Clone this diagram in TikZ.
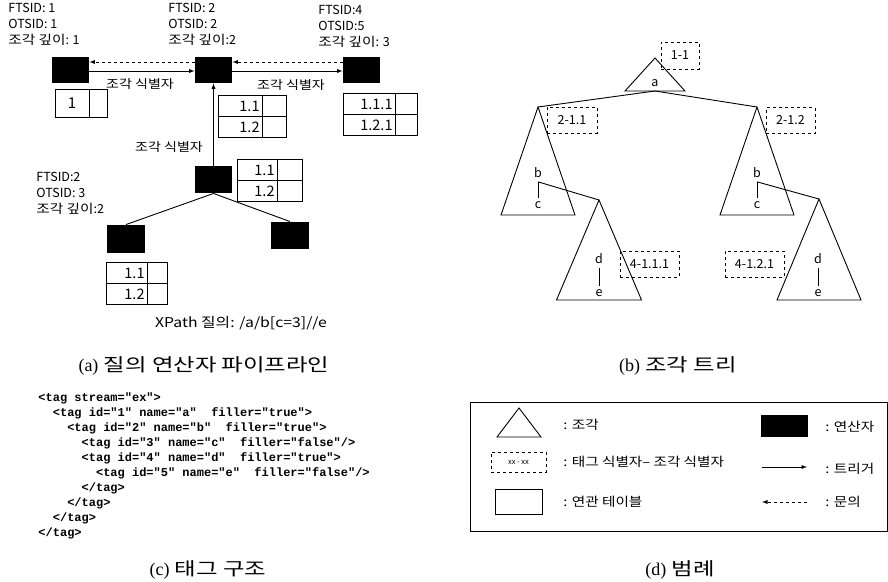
\documentclass[tikz,border=0pt]{standalone}
\usepackage{fontspec}
\setmainfont{Noto Sans CJK KR}
\newfontfamily\codefont{Liberation Mono}
\newfontfamily\serfont{Liberation Serif}
\newfontfamily\kr{Noto Sans CJK KR}[FakeStretch=1.17]
\newfontfamily\capfont{Noto Sans CJK KR}[FakeStretch=1.3]

\begin{document}
\begin{tikzpicture}
  [x=1pt,y=-1pt,line width=0.9pt,font=\fontsize{12.5}{16}\selectfont,
   op/.style={fill=black,minimum width=37pt,minimum height=26pt,inner sep=0},
   tid/.style={draw,dashed,line width=0.7pt,minimum height=26pt,inner sep=0},
   hdr/.style={anchor=north west,align=left,inner sep=0},
   lgd/.style={anchor=west,inner sep=0,font=\kr\fontsize{12.5}{16}\selectfont},
   captxt/.style={font=\capfont\fontsize{18}{20}\selectfont}]
  \useasboundingbox (0,0) rectangle (888,581);

  % (a) operators
  \node[op] (o1) at (70.5,70) {};
  \node[op] (o2) at (213.5,70) {};
  \node[op] (o3) at (361.5,70) {};
  \node[op,minimum height=27pt] (o4) at (213.5,179.5) {};
  \node[op,minimum width=38pt,minimum height=28pt] (o5) at (126,239) {};
  \node[op,minimum width=38pt,minimum height=27pt] (o6) at (290,235.5) {};

  \node[hdr] (h1) at (8,3) {FTSID: 1\\OTSID: 1\\{\kr 조각 깊이}: 1};
  \node[hdr] (h2) at (168,3) {FTSID: 2\\OTSID: 2\\{\kr 조각 깊이}:2};
  \node[hdr] (h3) at (318,5) {FTSID:4\\OTSID:5\\{\kr 조각 깊이}: 3};
  \node[hdr] (h4) at (36,172) {FTSID:2\\OTSID: 3\\{\kr 조각 깊이}:2};

  \draw[dashed,-latex] ([yshift=8pt]o2.west) -- ([yshift=8pt]o1.east);
  \draw[-latex] ([yshift=-1pt]o1.east) -- ([yshift=-1pt]o2.west);
  \draw[dashed,-latex] ([yshift=8pt]o3.west) -- ([yshift=8pt]o2.east);
  \draw[-latex] ([yshift=-1pt]o2.east) -- ([yshift=-1pt]o3.west);
  \draw[-latex] (o4) -- (o2);
  \foreach \to in {o5,o6}
    \draw (o4.south) -- (\to.north);

  \node[font=\kr\fontsize{12}{16}\selectfont] (l1) at (140,84) {조각 식별자};
  \node[font=\kr\fontsize{12}{16}\selectfont] (l2) at (291,85) {조각 식별자};
  \node[font=\kr\fontsize{12}{16}\selectfont] (l3) at (169,147) {조각 식별자};

  % tables
  \draw (55,89) rectangle (107,117);
  \draw (89,89) -- (89,117);
  \node[font=\fontsize{15}{16}\selectfont] (c0) at (72,103) {1};
  \foreach \l/\t/\m/\r/\a/\b [count=\i] in
    {218/95/262/286/1.1/1.2, 343/93/395/417/1.1.1/1.2.1,
     237/159/277/302/1.1/1.2, 106/262/147/167/1.1/1.2}
  {
    \draw (\l,\t) rectangle (\r,\t+42);
    \draw (\l,\t+21) -- (\r,\t+21) (\m,\t) -- (\m,\t+42);
    \node[anchor=east,inner sep=2pt,font=\fontsize{14.5}{16}\selectfont] (c\i a) at (\m,\t+11) {\a};
    \node[anchor=east,inner sep=2pt,font=\fontsize{14.5}{16}\selectfont] (c\i b) at (\m,\t+32) {\b};
  }

  \node[font=\kr\fontsize{13.5}{16}\selectfont] (xp) at (241,323) {XPath 질의: /a/b[c=3]//e};
  \node[captxt] (ca) at (204,366) {{\serfont (a)} 질의 연산자 파이프라인};

  % (b) fragment tree
  \foreach \x/\y/\w/\h in {655/58/30/33, 538/107/37/108, 599/200/42.5/100,
                          757/107/37/108, 819/199/42/101}
    \draw (\x,\y) -- ++(\w,\h) -- ++(-2*\w,0) -- cycle;
  \coordinate (ta) at (655,91);
  \coordinate (tb1) at (538,107);
  \coordinate (tb2) at (757,107);
  \coordinate (td1) at (599,200);
  \coordinate (td2) at (819,199);
  \node (na) at (655,83) {a};
  \node (nb1) at (538,173) {b};
  \node (nc1) at (538,205) {c};
  \node (nd1) at (599,259) {d};
  \node (ne1) at (599,293) {e};
  \node (nb2) at (757,173) {b};
  \node (nc2) at (757,205) {c};
  \node (nd2) at (818,259) {d};
  \node (ne2) at (818,293) {e};
  \foreach \from/\to in {ta/tb1,ta/tb2,nb1/nc1,nb2/nc2,nd1/ne1,nd2/ne2}
    \draw (\from) -- (\to);
  \draw (nb1.south) -- (td1);
  \draw (nb2.south) -- (td2);

  \node[tid,minimum width=38pt,minimum height=27pt] (i1) at (680,55.5) {1-1};
  \node[tid,minimum width=50pt] (i2) at (572,120) {2-1.1};
  \node[tid,minimum width=49pt] (i3) at (790.5,120.5) {2-1.2};
  \node[tid,minimum width=59pt] (i4) at (649.5,264) {4-1.1.1};
  \node[tid,minimum width=59pt] (i5) at (754.5,264) {4-1.2.1};
  \node[captxt] (cb) at (678,366) {{\serfont (b)} 조각 트리};

  % (c) tag structure
  \node[anchor=north west,align=left,inner sep=0,
        font=\codefont\bfseries\fontsize{12}{15}\selectfont] (xml) at (38,392)
   {<tag stream="ex">\\
    \phantom{xx}<tag id="1" name="a"~ filler="true">\\
    \phantom{xxxx}<tag id="2" name="b"~ filler="true">\\
    \phantom{xxxxxx}<tag id="3" name="c"~ filler="false"/>\\
    \phantom{xxxxxx}<tag id="4" name="d"~ filler="true">\\
    \phantom{xxxxxxxx}<tag id="5" name="e"~ filler="false"/>\\
    \phantom{xxxxxx}</tag>\\
    \phantom{xxxx}</tag>\\
    \phantom{xx}</tag>\\
    </tag>};
  \node[captxt] (cc) at (208,570) {{\serfont (c)} 태그 구조};

  % (d) legend
  \draw (470,402) rectangle (887,531);
  \draw (519,408) -- (541,437) -- (497,437) -- cycle;
  \node[tid,minimum width=55pt,minimum height=20pt,font=\fontsize{7.5}{8}\selectfont] (lx) at (518.5,462) {xx - xx};
  \node[draw,minimum width=47pt,minimum height=25pt,inner sep=0] (lt) at (518.5,501.5) {};
  \node[op,minimum width=47pt,minimum height=22pt] (lo) at (784.5,426) {};
  \coordinate (la1) at (762,467);
  \coordinate (la2) at (807,467);
  \coordinate (lq1) at (807,502);
  \coordinate (lq2) at (762,502);
  \draw[-latex] (la1) -- (la2);
  \draw[dashed,-latex] (lq1) -- (lq2);
  \node[lgd] (g1) at (563,425) {: 조각};
  \node[lgd] (g2) at (563,462) {: 태그 식별자– 조각 식별자};
  \node[lgd] (g3) at (563,502) {: 연관 테이블};
  \node[lgd] (g4) at (825,427) {: 연산자};
  \node[lgd] (g5) at (825,469) {: 트리거};
  \node[lgd] (g6) at (825,502) {: 문의};
  \node[captxt] (cd) at (680,570) {{\serfont (d)} 범례};
\end{tikzpicture}
\end{document}
